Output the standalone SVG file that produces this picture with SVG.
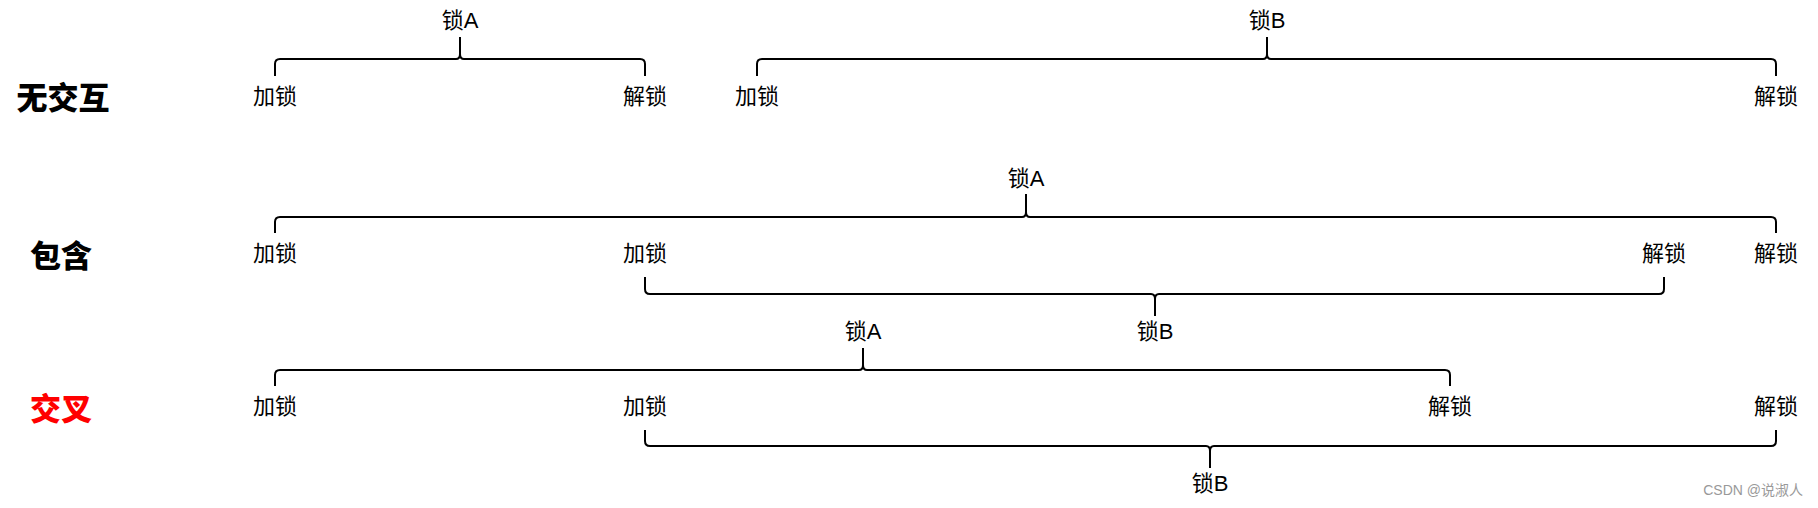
<svg xmlns="http://www.w3.org/2000/svg" width="1818" height="508" viewBox="0 0 1818 508">
<style>
.bg{fill:#fff}
.lbl{font-family:"Liberation Sans","Noto Sans CJK SC",sans-serif;font-size:22px;fill:#000;text-anchor:middle;dominant-baseline:central}
.ttl{font-family:"Noto Sans CJK SC",sans-serif;font-size:31px;font-weight:900;fill:#000;text-anchor:middle;dominant-baseline:central}
.red{fill:#ff0000}
.br{fill:none;stroke:#000;stroke-width:2;stroke-linejoin:round}
.wm{font-family:"Liberation Sans","Noto Sans CJK SC",sans-serif;font-size:14px;fill:#999;text-anchor:end;dominant-baseline:central}
</style>
<rect class="bg" x="0" y="0" width="1818" height="508"/>
<g id="titles">
<text id="t-none" class="ttl" x="63" y="95">无交互</text>
<text id="t-contain" class="ttl" x="61" y="253">包含</text>
<text id="t-cross" class="ttl red" x="61" y="406">交叉</text>
</g>
<g id="row1">
<g id="r1-a-lock"><text class="lbl" x="275" y="96">加锁</text></g>
<g id="r1-a-unlock"><text class="lbl" x="645" y="96">解锁</text></g>
<g id="r1-b-lock"><text class="lbl" x="757" y="96">加锁</text></g>
<g id="r1-b-unlock"><text class="lbl" x="1776" y="96">解锁</text></g>
<g id="r1-lockA"><text class="lbl" x="460" y="20">锁A</text></g>
<g id="r1-lockB"><text class="lbl" x="1267" y="20">锁B</text></g>
</g>
<g id="row2">
<g id="r2-a-lock"><text class="lbl" x="275" y="253">加锁</text></g>
<g id="r2-b-lock"><text class="lbl" x="645" y="253">加锁</text></g>
<g id="r2-b-unlock"><text class="lbl" x="1664" y="253">解锁</text></g>
<g id="r2-a-unlock"><text class="lbl" x="1776" y="253">解锁</text></g>
<g id="r2-lockA"><text class="lbl" x="1026" y="178">锁A</text></g>
<g id="r2-lockB"><text class="lbl" x="1155" y="331">锁B</text></g>
</g>
<g id="row3">
<g id="r3-a-lock"><text class="lbl" x="275" y="406">加锁</text></g>
<g id="r3-b-lock"><text class="lbl" x="645" y="406">加锁</text></g>
<g id="r3-a-unlock"><text class="lbl" x="1450" y="406">解锁</text></g>
<g id="r3-b-unlock"><text class="lbl" x="1776" y="406">解锁</text></g>
<g id="r3-lockA"><text class="lbl" x="863" y="331">锁A</text></g>
<g id="r3-lockB"><text class="lbl" x="1210" y="483">锁B</text></g>
</g>
<g id="connectors">
<path class="br" d="M275,76 L275,64 Q275,59 280,59 L456,59 Q460,59 460,54 L460,37 M460,54 Q460,59 464,59 L640,59 Q645,59 645,64 L645,76"/>
<path class="br" d="M757,76 L757,64 Q757,59 762,59 L1263,59 Q1267,59 1267,54 L1267,37 M1267,54 Q1267,59 1271,59 L1771,59 Q1776,59 1776,64 L1776,76"/>
<path class="br" d="M275,233 L275,222 Q275,217 280,217 L1022,217 Q1026,217 1026,212 L1026,194 M1026,212 Q1026,217 1030,217 L1771,217 Q1776,217 1776,222 L1776,233"/>
<path class="br" d="M645,277 L645,289 Q645,294 650,294 L1151,294 Q1155,294 1155,299 L1155,316 M1155,299 Q1155,294 1159,294 L1659,294 Q1664,294 1664,289 L1664,277"/>
<path class="br" d="M275,386 L275,375 Q275,370 280,370 L859,370 Q863,370 863,365 L863,348 M863,365 Q863,370 867,370 L1445,370 Q1450,370 1450,375 L1450,386"/>
<path class="br" d="M645,430 L645,441 Q645,446 650,446 L1206,446 Q1210,446 1210,451 L1210,468 M1210,451 Q1210,446 1214,446 L1771,446 Q1776,446 1776,441 L1776,430"/>
</g>
<text class="wm" x="1803" y="490">CSDN @说淑人</text>
</svg>
